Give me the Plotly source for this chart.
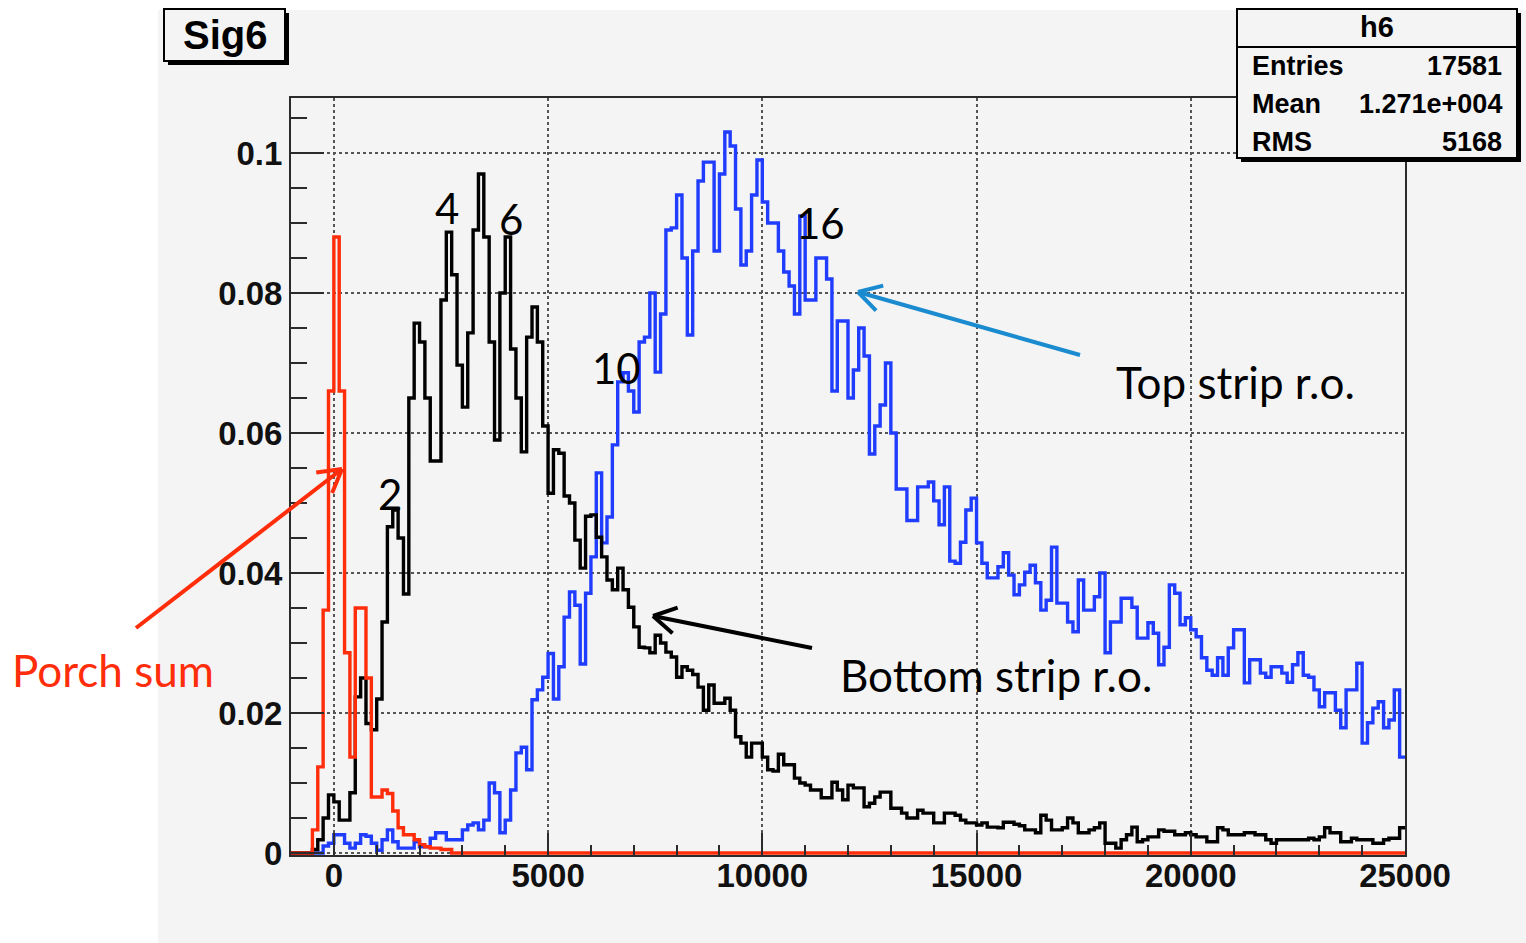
import math
import plotly.graph_objects as go

# ---------------------------------------------------------------------------
# Histogram binning: 208 bins of width 125 from -1000 to 25000
# ---------------------------------------------------------------------------
BIN_LO = -1000
BIN_W = 125

# Bottom strip read-out (black)
bottom_strip = [
    0, 0, 0, 0, 0.0005, 0.0019, 0.005, 0.0083, 0.0073, 0.0047,
    0.0047, 0.0086, 0.0223, 0.025, 0.0185, 0.0176, 0.022, 0.033, 0.0466, 0.049,
    0.045, 0.037, 0.065, 0.0757, 0.073, 0.065, 0.056, 0.056, 0.079, 0.0887,
    0.0826, 0.0697, 0.0637, 0.0743, 0.089, 0.097, 0.088, 0.073, 0.059, 0.08,
    0.088, 0.072, 0.065, 0.0573, 0.0737, 0.078, 0.073, 0.061, 0.0514, 0.0576,
    0.0571, 0.051, 0.05, 0.0447, 0.0407, 0.0481, 0.0483, 0.0451, 0.0423, 0.039,
    0.0376, 0.0407, 0.0376, 0.0351, 0.0323, 0.0294, 0.0293, 0.0286, 0.0311, 0.03,
    0.0287, 0.028, 0.0251, 0.0266, 0.0261, 0.0255, 0.0237, 0.0204, 0.024, 0.0214,
    0.0214, 0.0221, 0.0204, 0.0166, 0.0157, 0.0137, 0.0157, 0.0157, 0.0137, 0.0119,
    0.0117, 0.0141, 0.0126, 0.0126, 0.0107, 0.01, 0.0097, 0.009, 0.009, 0.0079,
    0.0079, 0.0101, 0.009, 0.0076, 0.0097, 0.0093, 0.0093, 0.0066, 0.0071, 0.008,
    0.0087, 0.0087, 0.0064, 0.0064, 0.0057, 0.005, 0.005, 0.0061, 0.0057, 0.0057,
    0.0043, 0.0043, 0.0057, 0.0057, 0.0054, 0.0047, 0.0043, 0.0043, 0.004, 0.0043,
    0.0037, 0.0037, 0.0036, 0.0044, 0.0044, 0.0041, 0.0039, 0.0033, 0.0033, 0.0029,
    0.0054, 0.0047, 0.0033, 0.0033, 0.0036, 0.005, 0.0043, 0.0029, 0.0029, 0.0033,
    0.0036, 0.0043, 0.0014, 0.0014, 0.0007, 0.0019, 0.0026, 0.0037, 0.0016, 0.0019,
    0.0023, 0.0023, 0.0033, 0.0031, 0.0031, 0.0026, 0.0026, 0.0029, 0.0026, 0.0023,
    0.0023, 0.0016, 0.0016, 0.0036, 0.0033, 0.0026, 0.0026, 0.0026, 0.0029, 0.0029,
    0.0026, 0.0026, 0.0019, 0.0014, 0.0019, 0.0019, 0.0019, 0.0019, 0.0019, 0.0019,
    0.0021, 0.0019, 0.0023, 0.0036, 0.0029, 0.0029, 0.0016, 0.0016, 0.0021, 0.0019,
    0.0019, 0.0019, 0.0014, 0.0014, 0.0019, 0.0021, 0.0021, 0.0036,
]

# Top strip read-out (blue)
top_strip = [
    0, 0, 0, 0, 0, 0, 0.001, 0.0014, 0.0026, 0.0026,
    0.0014, 0.0007, 0.0014, 0.0026, 0.0024, 0.0014, 0.0004, 0.0019, 0.0033, 0.0016,
    0.0007, 0.0007, 0.0007, 0.0016, 0.0009, 0.0009, 0.0021, 0.0029, 0.0029, 0.0019,
    0.0019, 0.0019, 0.0033, 0.004, 0.0043, 0.0033, 0.0047, 0.01, 0.0086, 0.0029,
    0.0047, 0.009, 0.0143, 0.0151, 0.0119, 0.0219, 0.0233, 0.0251, 0.0285, 0.022,
    0.0266, 0.0337, 0.0373, 0.0354, 0.027, 0.0371, 0.0423, 0.0543, 0.0443, 0.048,
    0.0583, 0.0673, 0.0686, 0.066, 0.063, 0.073, 0.0737, 0.08, 0.0687, 0.077,
    0.089, 0.0893, 0.094, 0.085, 0.074, 0.086, 0.096, 0.0987, 0.0987, 0.086,
    0.097, 0.103, 0.101, 0.092, 0.084, 0.086, 0.094, 0.099, 0.093, 0.09,
    0.09, 0.086, 0.083, 0.081, 0.077, 0.091, 0.079, 0.079, 0.085, 0.085,
    0.082, 0.066, 0.076, 0.076, 0.065, 0.069, 0.075, 0.071, 0.057, 0.061,
    0.064, 0.07, 0.06, 0.052, 0.052, 0.0475, 0.0475, 0.0523, 0.0523, 0.053,
    0.0503, 0.0469, 0.0523, 0.0417, 0.0414, 0.0444, 0.049, 0.0507, 0.0443, 0.0414,
    0.0393, 0.0393, 0.0409, 0.0429, 0.0397, 0.0369, 0.0383, 0.0401, 0.0411, 0.0386,
    0.0347, 0.0361, 0.0437, 0.0357, 0.0357, 0.033, 0.0316, 0.039, 0.0347, 0.0347,
    0.0366, 0.04, 0.0286, 0.033, 0.033, 0.0364, 0.0364, 0.0351, 0.0307, 0.0307,
    0.0329, 0.0314, 0.0269, 0.0294, 0.0383, 0.0371, 0.0326, 0.0336, 0.0319, 0.0309,
    0.0279, 0.0261, 0.0254, 0.0279, 0.0254, 0.0293, 0.0319, 0.0319, 0.0243, 0.0276,
    0.0276, 0.0257, 0.0251, 0.0266, 0.0266, 0.0257, 0.0244, 0.0269, 0.0286, 0.0254,
    0.0251, 0.0233, 0.0209, 0.0229, 0.0229, 0.0204, 0.0179, 0.0233, 0.0233, 0.0271,
    0.0157, 0.0186, 0.0207, 0.0216, 0.0179, 0.019, 0.0233, 0.0137,
]

# Porch sum (red)
porch_sum = [
    0, 0, 0, 0, 0.0033, 0.0123, 0.0347, 0.066, 0.088, 0.066,
    0.0286, 0.0137, 0.035, 0.035, 0.025, 0.008, 0.008, 0.009, 0.0085, 0.006,
    0.0036, 0.0026, 0.0026, 0.0019, 0.0012, 0.0009, 0.0007, 0.0007, 0.0005, 0.0005,
    0, 0, 0, 0, 0, 0, 0, 0, 0, 0,
    0, 0, 0, 0, 0, 0, 0, 0, 0, 0,
    0, 0, 0, 0, 0, 0, 0, 0, 0, 0,
    0, 0, 0, 0, 0, 0, 0, 0, 0, 0,
    0, 0, 0, 0, 0, 0, 0, 0, 0, 0,
    0, 0, 0, 0, 0, 0, 0, 0, 0, 0,
    0, 0, 0, 0, 0, 0, 0, 0, 0, 0,
    0, 0, 0, 0, 0, 0, 0, 0, 0, 0,
    0, 0, 0, 0, 0, 0, 0, 0, 0, 0,
    0, 0, 0, 0, 0, 0, 0, 0, 0, 0,
    0, 0, 0, 0, 0, 0, 0, 0, 0, 0,
    0, 0, 0, 0, 0, 0, 0, 0, 0, 0,
    0, 0, 0, 0, 0, 0, 0, 0, 0, 0,
    0, 0, 0, 0, 0, 0, 0, 0, 0, 0,
    0, 0, 0, 0, 0, 0, 0, 0, 0, 0,
    0, 0, 0, 0, 0, 0, 0, 0, 0, 0,
    0, 0, 0, 0, 0, 0, 0, 0, 0, 0,
    0, 0, 0, 0, 0, 0, 0, 0,
]

x_ticks = [0, 5000, 10000, 15000, 20000, 25000]
x_tick_text = ["0", "5000", "10000", "15000", "20000", "25000"]
y_ticks = [0, 0.02, 0.04, 0.06, 0.08, 0.1]
y_tick_text = ["0", "0.02", "0.04", "0.06", "0.08", "0.1"]

stats_rows = [("Entries", "17581"), ("Mean", "1.271e+004"), ("RMS", "5168")]

# ---------------------------------------------------------------------------
# Page geometry (pixels) and helpers converting page pixels to paper coords.
# The value axis starts a hair below zero so the zero-level outline of the
# histograms is drawn at full width on top of the bottom frame line.
# ---------------------------------------------------------------------------
W, H = 1526, 943
FL, FR, FT, FB = 291, 1405, 98, 855      # frame edges
ZERO_Y = 853                             # page row of value 0
PX_PER_UNIT = 7000                       # 0.02 per 140 px
X_RANGE = [-1000, 25000]
Y_RANGE = [-(FB - ZERO_Y) / PX_PER_UNIT, (ZERO_Y - FT) / PX_PER_UNIT]


def px(x):
    return (x - FL) / (FR - FL)


def py(y):
    return (FB - y) / (FB - FT)


def step_xy(vals):
    xs = [BIN_LO + BIN_W * i for i in range(len(vals) + 1)]
    ys = list(vals) + [vals[-1]]
    return xs, ys


BLUE = "#1f3cff"
RED = "#ff2d0a"
BLACK = "#000000"
ARROW_BLUE = "#1b8bd0"
AXIS = "#2b2b2b"
BG = "#f4f4f4"

fig = go.Figure()
for vals, col in [(top_strip, BLUE), (bottom_strip, BLACK), (porch_sum, RED)]:
    xs, ys = step_xy(vals)
    fig.add_trace(go.Scatter(x=xs, y=ys, mode="lines",
                             line=dict(color=col, width=3.4, shape="hv"),
                             hoverinfo="skip"))

tick_font = dict(family="Liberation Sans, Arial, sans-serif", size=33,
                 color="#111111", weight="bold")

fig.update_layout(
    width=W, height=H,
    margin=dict(l=FL, r=W - FR, t=FT, b=H - FB, pad=0),
    paper_bgcolor="white",
    plot_bgcolor=BG,
    showlegend=False,
    xaxis=dict(
        range=X_RANGE, tickmode="array", tickvals=x_ticks, ticktext=x_tick_text,
        ticks="inside", ticklen=22, tickwidth=2, tickcolor=AXIS,
        showline=True, mirror=True, linecolor=AXIS, linewidth=2,
        showgrid=True, gridcolor="#555555", griddash="dot", gridwidth=1.5,
        zeroline=False, tickfont=tick_font, ticklabelstandoff=-10,
        minor=dict(tickmode="array",
                   tickvals=list(range(-1000, 25001, 1000)),
                   ticks="inside", ticklen=10, tickwidth=2, tickcolor=AXIS,
                   showgrid=False),
    ),
    yaxis=dict(
        range=Y_RANGE, tickmode="array", tickvals=y_ticks, ticktext=y_tick_text,
        ticks="inside", ticklen=33, tickwidth=2, tickcolor=AXIS,
        showline=True, mirror=True, linecolor=AXIS, linewidth=2,
        showgrid=True, gridcolor="#555555", griddash="dot", gridwidth=1.5,
        zeroline=False, tickfont=tick_font,
        minor=dict(tickmode="array",
                   tickvals=[round(0.005 * k, 3) for k in range(22)],
                   ticks="inside", ticklen=16, tickwidth=2, tickcolor=AXIS,
                   showgrid=False),
    ),
)

shapes = []
# canvas background of the histogram pad
shapes.append(dict(type="rect", xref="paper", yref="paper", layer="below",
                   x0=px(158), x1=px(W), y0=py(H), y1=py(10),
                   fillcolor=BG, line=dict(width=0)))


def box(x0, y0, x1, y1, off=4):
    return [
        dict(type="rect", xref="paper", yref="paper",
             x0=px(x0 + off), x1=px(x1 + off), y0=py(y1 + off), y1=py(y0 + off),
             fillcolor="#000000", line=dict(width=0)),
        dict(type="rect", xref="paper", yref="paper",
             x0=px(x0), x1=px(x1), y0=py(y1), y1=py(y0),
             fillcolor=BG, line=dict(color="#000000", width=2)),
    ]


shapes += box(164, 9, 285, 61)          # title box
shapes += box(1237, 9, 1517, 158)       # statistics box
shapes.append(dict(type="line", xref="paper", yref="paper",
                   x0=px(1237), x1=px(1517), y0=py(47), y1=py(47),
                   line=dict(color="#000000", width=2)))


def arrow(tail, tip, color, width=4, head=26, spread=30):
    tx, ty = tail
    hx, hy = tip
    ang = math.atan2(ty - hy, tx - hx)
    out = [dict(type="line", xref="paper", yref="paper",
                x0=px(tx), y0=py(ty), x1=px(hx), y1=py(hy),
                line=dict(color=color, width=width))]
    for s in (-spread, spread):
        a = ang + math.radians(s)
        ex, ey = hx + head * math.cos(a), hy + head * math.sin(a)
        out.append(dict(type="line", xref="paper", yref="paper",
                        x0=px(hx), y0=py(hy), x1=px(ex), y1=py(ey),
                        line=dict(color=color, width=width)))
    return out


shapes += arrow((1080, 355), (858, 292), ARROW_BLUE)
shapes += arrow((812, 648), (653, 616), BLACK)
shapes += arrow((136, 628), (342, 469), RED)

fig.update_layout(shapes=shapes)

annotations = []


def label(text, x, y, size, color="#000000", family="Lato, sans-serif",
          weight="normal", xanchor="center"):
    annotations.append(dict(text=text, x=px(x), y=py(y), xref="paper", yref="paper",
                            showarrow=False, xanchor=xanchor, yanchor="middle",
                            font=dict(family=family, size=size, color=color,
                                      weight=weight)))


BOLD = "Liberation Sans, Arial, sans-serif"
label("Sig6", 225, 35, 40, family=BOLD, weight="bold")
label("h6", 1377, 27, 29, family=BOLD, weight="bold")
for i, (name, value) in enumerate(stats_rows):
    yy = 66 + 38 * i
    label(name, 1250, yy, 27, family=BOLD, weight="bold", xanchor="left")
    label(value, 1504, yy, 27, family=BOLD, weight="bold", xanchor="right")

# peak numbering
label("2", 390, 494, 42)
label("4", 447, 208, 42)
label("6", 511, 219, 42)
label("10", 616, 368, 42)
label("16", 820, 223, 42)

label("Top strip r.o.", 1114, 382, 44, xanchor="left")
label("Bottom strip r.o.", 838, 675, 44, xanchor="left")
label("Porch sum", 10, 670, 44, color=RED, xanchor="left")

fig.update_layout(annotations=annotations)

fig.write_html("out.html")
